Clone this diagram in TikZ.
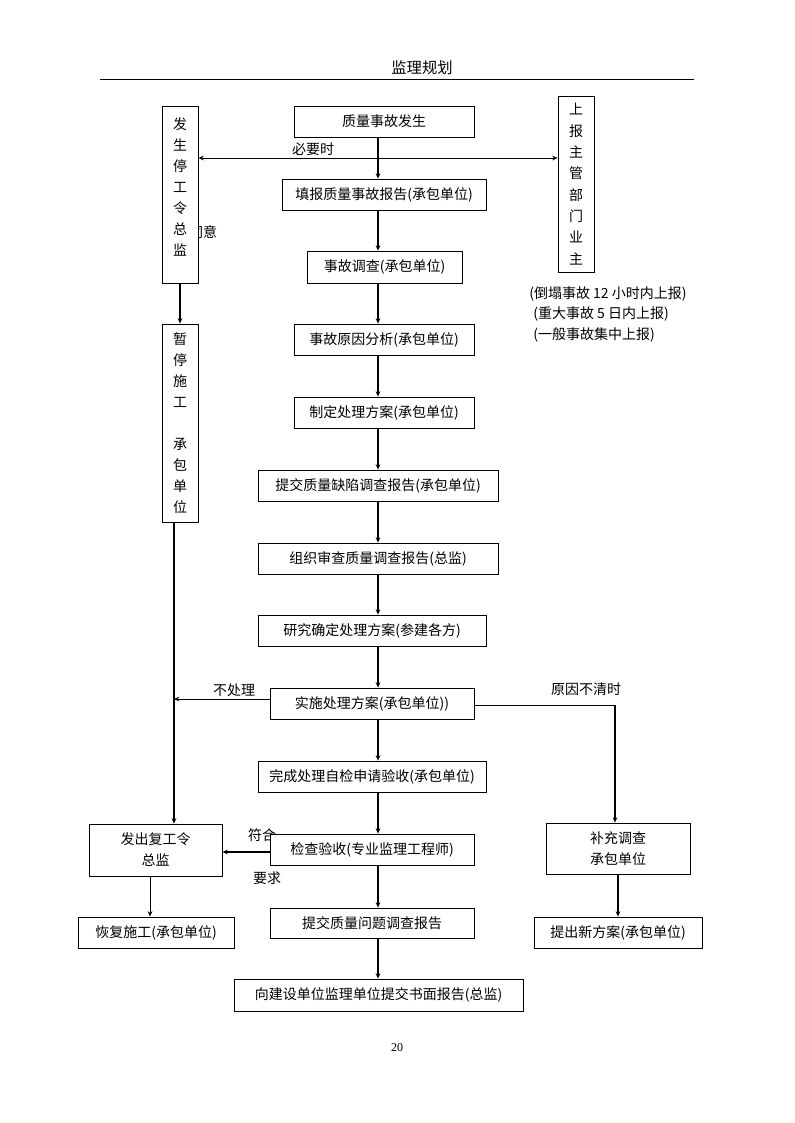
\documentclass[tikz,border=0pt]{standalone}
\usepackage{fontspec}
\setmainfont{Liberation Serif}
\newfontfamily\cjk{Noto Sans CJK SC}
\usetikzlibrary{arrows.meta}
\begin{document}
\begin{tikzpicture}[x=0.75pt,y=-0.75pt,
 bx/.style={draw, line width=0.6pt, fill=white, inner sep=0pt, minimum height=23.25pt, font=\cjk\fontsize{10.5}{15.75}\selectfont, align=center},
 arr/.style={-{Stealth[length=4pt,width=3.5pt]}, line width=1.4pt},
 tarr/.style={-{Stealth[length=4pt,width=3.5pt]}, line width=0.7pt},
 thinln/.style={line width=0.7pt},
 lbl/.style={font=\cjk\fontsize{10.5}{12}\selectfont, inner sep=0pt}]
\useasboundingbox (0,0) rectangle (794,1123);
% header
\node[lbl, font=\cjk\fontsize{11.5}{13}\selectfont] (hdr) at (422,68) {监理规划};
\draw[line width=0.6pt] (100,79) -- (694,79);
\node[font=\fontsize{9}{11}\selectfont] (pg) at (397,1048) {20};

% labels partially hidden behind boxes (drawn first)
\node[lbl] (ty) at (203,232) {同意};
\node[lbl] (fh) at (262,835) {符合};

% main column
\node[bx, minimum width=135pt] (q1) at (384,121.5) {质量事故发生};
\node[bx, minimum width=153pt] (q2) at (384,194.5) {填报质量事故报告(承包单位)};
\node[bx, minimum width=116.25pt, minimum height=24pt] (q3) at (384.5,267) {事故调查(承包单位)};
\node[bx, minimum width=135pt] (q4) at (384,339.5) {事故原因分析(承包单位)};
\node[bx, minimum width=135pt] (q5) at (384,412.5) {制定处理方案(承包单位)};
\node[bx, minimum width=180pt] (q6) at (378,485.5) {提交质量缺陷调查报告(承包单位)};
\node[bx, minimum width=180pt] (q7) at (378,558.5) {组织审查质量调查报告(总监)};
\node[bx, minimum width=171pt] (q8) at (372,630.5) {研究确定处理方案(参建各方)};
\node[bx, minimum width=153pt] (q9) at (372,703.5) {实施处理方案(承包单位))};
\node[bx, minimum width=171pt] (q10) at (372,776.5) {完成处理自检申请验收(承包单位)};
\node[bx, minimum width=153pt] (q11) at (372,849.5) {检查验收(专业监理工程师)};
\node[bx, minimum width=153pt, minimum height=22.5pt] (q12) at (372,923) {提交质量问题调查报告};
\node[bx, minimum width=216.75pt, minimum height=24pt] (q13) at (378.5,995) {向建设单位监理单位提交书面报告(总监)};

% left column
\node[bx, minimum width=27pt, minimum height=132.75pt, text depth=12pt] (L1) at (180,194.5) {发\\生\\停\\工\\令\\总\\监};
\node[bx, minimum width=27pt, minimum height=148.5pt] (L2) at (180,423) {暂\\停\\施\\工\\ \\承\\包\\单\\位};
\node[bx, minimum width=99.75pt, minimum height=39pt] (F) at (155.5,850) {发出复工令\\总监};
\node[bx, minimum width=117pt] (H) at (156,932.5) {恢复施工(承包单位)};

% right column
\node[bx, minimum width=27pt, minimum height=132pt, font=\cjk\fontsize{10.5}{16}\selectfont] (R) at (576,184) {上\\报\\主\\管\\部\\门\\业\\主};
\node[bx, minimum width=108pt, minimum height=38.25pt] (B) at (618,848.5) {补充调查\\承包单位};
\node[bx, minimum width=126pt] (N) at (618,932.5) {提出新方案(承包单位)};

\node[lbl, anchor=west] (t1) at (529,294) {(倒塌事故 12 小时内上报)};
\node[lbl, anchor=west] (t2) at (533,314) {(重大事故 5 日内上报)};
\node[lbl, anchor=west] (t3) at (533,335) {(一般事故集中上报)};

% main arrows
\coordinate (xm) at (378,0);
\foreach \a/\b in {q1/q2,q2/q3,q3/q4,q4/q5,q5/q6,q6/q7,q7/q8,q8/q9,q9/q10,q10/q11,q11/q12,q12/q13}
  \draw[arr] (\a.south -| xm) -- (\b.north -| xm);

% double arrow
\coordinate (ya) at (0,158);
\draw[thinln, {Stealth[length=4pt,width=3.5pt]}-{Stealth[length=4pt,width=3.5pt]}] (L1.east |- ya) -- (R.west |- ya);
\node[lbl] (need) at (313,149) {必要时};

% left connectors
\draw[arr] (L1.south) -- (L2.north);
\coordinate (vx) at (174,0);
\draw[arr] (L2.south -| vx) -- (F.north -| vx);
\coordinate (v) at (174,699);
\draw[tarr] (q9.west |- v) -- (v);
\node[lbl] (nc) at (234,690) {不处理};
\coordinate (cy) at (0,852);
\draw[arr, line width=1.1pt] (q11.west |- cy) -- (F.east |- cy);
\node[lbl] (yq) at (267,878) {要求};
\coordinate (fx) at (150,0);
\draw[tarr] (F.south -| fx) -- (H.north -| fx);

% right connectors
\coordinate (rc) at (615,705);
\draw[thinln] (q9.east |- rc) -- (rc);
\draw[arr] (rc) -- (B.north -| rc);
\node[lbl] (yy) at (586,689) {原因不清时};
\draw[arr] (B.south) -- (N.north);
\end{tikzpicture}
\end{document}
